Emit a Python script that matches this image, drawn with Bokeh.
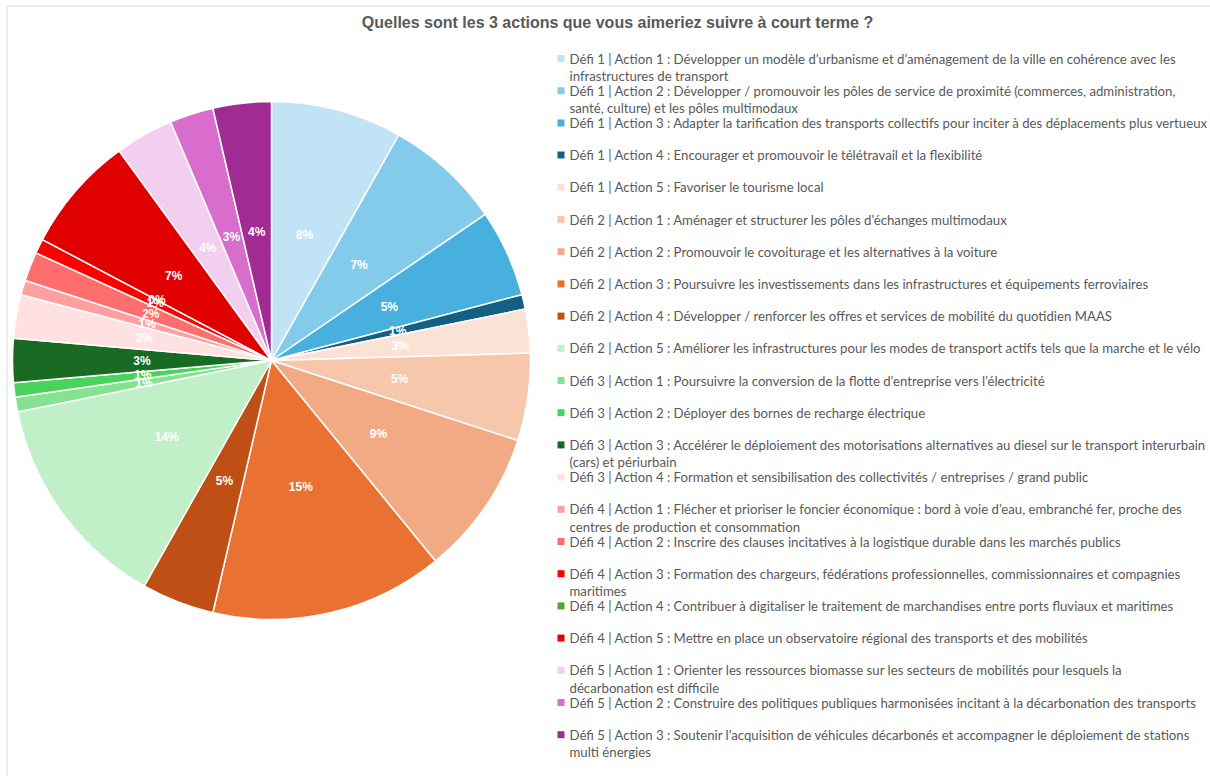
import numpy as np
from bokeh.plotting import figure
from bokeh.models import Range1d, ColumnDataSource
from bokeh.core.properties import value
from bokeh.embed import file_html
from bokeh.resources import INLINE

title_text = "Quelles sont les 3 actions que vous aimeriez suivre à court terme ?"

categories = [
    "Défi 1 | Action 1 : Développer un modèle d’urbanisme et d’aménagement de la ville en cohérence avec les\ninfrastructures de transport",
    "Défi 1 | Action 2 : Développer / promouvoir les pôles de service de proximité (commerces, administration,\nsanté, culture) et les pôles multimodaux",
    "Défi 1 | Action 3 : Adapter la tarification des transports collectifs pour inciter à des déplacements plus vertueux",
    "Défi 1 | Action 4 : Encourager et promouvoir le télétravail et la flexibilité",
    "Défi 1 | Action 5 : Favoriser le tourisme local",
    "Défi 2 | Action 1 : Aménager et structurer les pôles d’échanges multimodaux",
    "Défi 2 | Action 2 : Promouvoir le covoiturage et les alternatives à la voiture",
    "Défi 2 | Action 3 : Poursuivre les investissements dans les infrastructures et équipements ferroviaires",
    "Défi 2 | Action 4 : Développer / renforcer les offres et services de mobilité du quotidien MAAS",
    "Défi 2 | Action 5 : Améliorer les infrastructures pour les modes de transport actifs tels que la marche et le vélo",
    "Défi 3 | Action 1 : Poursuivre la conversion de la flotte d’entreprise vers l’électricité",
    "Défi 3 | Action 2 : Déployer des bornes de recharge électrique",
    "Défi 3 | Action 3 : Accélérer le déploiement des motorisations alternatives au diesel sur le transport interurbain\n(cars) et périurbain",
    "Défi 3 | Action 4 : Formation et sensibilisation des collectivités / entreprises / grand public",
    "Défi 4 | Action 1 : Flécher et prioriser le foncier économique : bord à voie d’eau, embranché fer, proche des\ncentres de production et consommation",
    "Défi 4 | Action 2 : Inscrire des clauses incitatives à la logistique durable dans les marchés publics",
    "Défi 4 | Action 3 : Formation des chargeurs, fédérations professionnelles, commissionnaires et compagnies\nmaritimes",
    "Défi 4 | Action 4 : Contribuer à digitaliser le traitement de marchandises entre ports fluviaux et maritimes",
    "Défi 4 | Action 5 : Mettre en place un observatoire régional des transports et des mobilités",
    "Défi 5 | Action 1 : Orienter les ressources biomasse sur les secteurs de mobilités pour lesquels la\ndécarbonation est difficile",
    "Défi 5 | Action 2 : Construire des politiques publiques harmonisées incitant à la décarbonation des transports",
    "Défi 5 | Action 3 : Soutenir l’acquisition de véhicules décarbonés et accompagner le déploiement de stations\nmulti énergies",
]

counts = [9, 8, 6, 1, 3, 6, 10, 16, 5, 15, 1, 1, 3, 3, 1, 2, 1, 0, 8, 4, 3, 4]

colors = [
    "#C0E4F5", "#83CBEB", "#47B0DE", "#156082", "#FBE2D5",
    "#F7C7AC", "#F2AA84", "#E97132", "#C04F15", "#C1F0C8",
    "#84E291", "#47D45A", "#196B24", "#FFE1E1", "#FF9F9F",
    "#FF6D6D", "#FF0000", "#4EA72E", "#E00000", "#F2CEEF",
    "#D86DCD", "#A02B93",
]

W, H = 1210, 776
p = figure(width=W, height=H, x_range=Range1d(0, W), y_range=Range1d(0, H),
           output_backend="svg", toolbar_location=None, min_border=0,
           x_axis_location=None, y_axis_location=None)
p.grid.visible = False
p.outline_line_color = None
p.background_fill_color = "white"


def Y(img_y):
    return H - img_y


# chart border (top & left visible)
p.segment(x0=[6.5, 6.5], y0=[Y(5.5), Y(5.5)], x1=[W, 6.5], y1=[Y(5.5), 0],
          line_color="#D9D9D9", line_width=1)

# pie
cx, cy, R = 271, Y(360), 259
vals = np.array(counts, dtype=float)
total = vals.sum()
frac = vals / total
cum_end = np.cumsum(frac)
cum_start = cum_end - frac
start = np.pi / 2 - 2 * np.pi * cum_start
end = np.pi / 2 - 2 * np.pi * cum_end
mid = (start + end) / 2
pct = [f"{int(round(100 * f))}%" for f in frac]

nz = vals > 0
wsrc = ColumnDataSource(dict(start=start[nz], end=end[nz], color=np.array(colors)[nz]))
p.wedge(x=cx, y=cy, radius=R, start_angle="start", end_angle="end", direction="clock",
        fill_color="color", line_color="white", line_width=1.5, source=wsrc)

lsrc = ColumnDataSource(dict(x=cx + 0.5 * R * np.cos(mid), y=cy + 0.5 * R * np.sin(mid), t=pct))
p.text(x="x", y="y", text="t", source=lsrc, text_color="white", text_font=value("Liberation Sans"),
       text_font_style="bold", text_font_size="12px", text_align="center", text_baseline="middle")

# title
p.text(x=[617], y=[Y(22)], text=[title_text], text_color="#595959",
       text_font=value("Liberation Sans"), text_font_style="bold", text_font_size="16px",
       text_align="center", text_baseline="middle")

# legend
n = len(categories)
leg_y = [Y(58 + i * 32.2) for i in range(n)]
p.rect(x=[560.5] * n, y=leg_y, width=7, height=7, fill_color=colors, line_color=None)
gsrc = ColumnDataSource(dict(x=[569] * n, y=[v + 8 for v in leg_y], t=categories))
p.text(x="x", y="y", text="t", source=gsrc, text_color="#595959",
       text_font=value("Lato"), text_font_size="13.2px",
       text_align="left", text_baseline="top", text_line_height=1.1)

open("out.html", "w").write(file_html(p, INLINE))
